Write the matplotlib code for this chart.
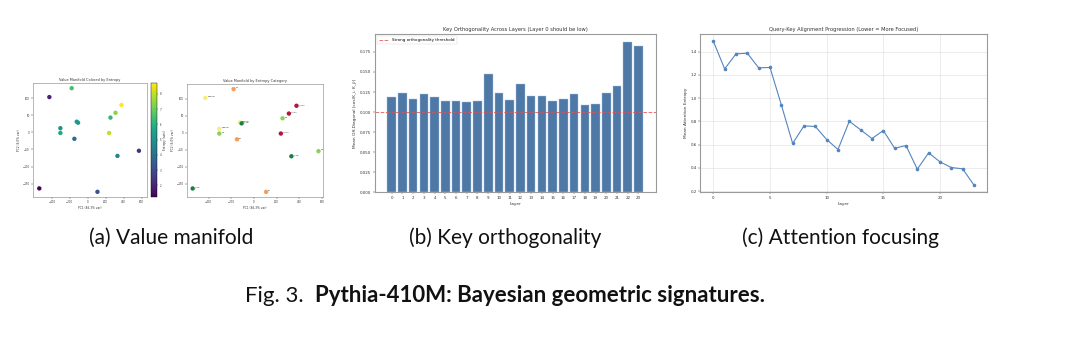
import matplotlib
matplotlib.use("Agg")
import matplotlib.pyplot as plt
import numpy as np

# ---------------- data ----------------
# (a) PCA projection of value vectors for 15 prompts
pc1 = [-428, -179, 376, 309, 253, -123, -108, -305, -305, 238, -149, 570, 331, -540, 108]
pc2 = [103, 129, 80, 57, 43, 31, 28, 12, -2, -2, -19, -54, -69, -164, -174]
prompt_entropy = [2.0, 6.5, 8.72, 7.4, 6.2, 5.35, 5.2, 5.0, 5.7, 8.0, 3.85, 2.35, 4.6, 1.23, 3.1]
prompt_category = ["medium", "MH", "H_high", "H_high", "ML", "medium", "L_low", "medium",
                   "ML", "H_high", "MH", "ML", "L_low", "L_low", "MH"]
category_colors = {"H_high": "#b2163b", "MH": "#f59d5b", "medium": "#f7ee7c",
                   "ML": "#8ccf5e", "L_low": "#1b7f3e"}

# (b) key orthogonality per layer
layers = list(range(24))
key_offdiag_cos = [0.1182, 0.1232, 0.1165, 0.1227, 0.1186, 0.1136, 0.1132, 0.1120,
                   0.1136, 0.1476, 0.1236, 0.1145, 0.1356, 0.1194, 0.1194, 0.1136,
                   0.1157, 0.1227, 0.1082, 0.1103, 0.1240, 0.1331, 0.1879, 0.1829]
ortho_threshold = 0.1

# (c) mean attention entropy per layer
attn_entropy = [1.489, 1.251, 1.380, 1.386, 1.260, 1.263, 0.942, 0.610, 0.761, 0.756,
                0.644, 0.558, 0.801, 0.727, 0.652, 0.721, 0.569, 0.592, 0.389, 0.529,
                0.452, 0.403, 0.392, 0.252]

subcaptions = ["(a) Value manifold", "(b) Key orthogonality", "(c) Attention focusing"]

# ---------------- styling helpers ----------------
SPINE = "#9a9a9a"
TEXT = "#333333"


def style_axes(ax, tick_fs, lw=0.8):
    for s in ax.spines.values():
        s.set_color(SPINE)
        s.set_linewidth(lw)
    ax.tick_params(labelsize=tick_fs, length=1.2, width=0.3, pad=1.2,
                   colors=TEXT, labelcolor=TEXT)


fig = plt.figure(figsize=(10.8, 3.41), dpi=100)
W, H = 1080.0, 341.0


def px_axes(x0, y0, x1, y1):
    return fig.add_axes([x0 / W, 1 - y1 / H, (x1 - x0) / W, (y1 - y0) / H])


# ---------------- (a) left: colored by entropy ----------------
ax1 = px_axes(33, 83, 147, 197)
sc = ax1.scatter(pc1, pc2, c=prompt_entropy, cmap="viridis", s=10,
                 edgecolors="none", vmin=min(prompt_entropy), vmax=max(prompt_entropy))
ax1.set_xlim(-610, 660)
ax1.set_xticks([-400, -200, 0, 200, 400, 600])
ax1.set_yticks([-150, -100, -50, 0, 50, 100])
ax1.set_title("Value Manifold Colored by Entropy", fontsize=2.5, pad=1.5, color=TEXT)
ax1.set_xlabel("PC1 (86.3% var)", fontsize=2.1, labelpad=1, color=TEXT)
ax1.set_ylabel("PC2 (6.0% var)", fontsize=2.1, labelpad=1, color=TEXT)
style_axes(ax1, 1.9, lw=0.5)

cax = px_axes(151, 83, 157, 197)
cb = fig.colorbar(sc, cax=cax)
cb.set_ticks([2, 3, 4, 5, 6, 7, 8])
cb.set_label("Entropy (nats)", fontsize=2.0, labelpad=1.5, color=TEXT)
cb.outline.set_linewidth(0.3)
cb.ax.tick_params(labelsize=1.9, length=1, width=0.3, pad=1, colors=TEXT)

# ---------------- (a) right: by entropy category ----------------
ax2 = px_axes(187, 84, 323, 197)
for x, y, cat in zip(pc1, pc2, prompt_category):
    ax2.scatter(x, y, s=10, color=category_colors[cat], edgecolors="none")
    ax2.annotate(cat, (x, y), xytext=(1.5, 0.5), textcoords="offset points",
                 fontsize=1.4, color=TEXT)
ax2.set_xlim(-590, 610)
ax2.set_xticks([-400, -200, 0, 200, 400, 600])
ax2.set_yticks([-150, -100, -50, 0, 50, 100])
ax2.set_title("Value Manifold by Entropy Category", fontsize=2.5, pad=1.5, color=TEXT)
ax2.set_xlabel("PC1 (86.3% var)", fontsize=2.1, labelpad=1, color=TEXT)
ax2.set_ylabel("PC2 (6.0% var)", fontsize=2.1, labelpad=1, color=TEXT)
style_axes(ax2, 1.9, lw=0.5)

# ---------------- (b) key orthogonality ----------------
ax3 = px_axes(374.6, 34, 655.5, 192.3)
ax3.bar(layers, key_offdiag_cos, width=0.8, color="#4e79a7", edgecolor="#a9c2df",
        linewidth=0.3)
ax3.axhline(ortho_threshold, color="#e05050", linestyle="--", linewidth=0.7,
            alpha=0.8, label="Strong orthogonality threshold")
ax3.set_xticks(layers)
ax3.set_yticks(np.arange(0, 0.176, 0.025))
ax3.set_title("Key Orthogonality Across Layers (Layer 0 should be low)",
              fontsize=3.7, pad=2, color=TEXT)
ax3.set_xlabel("Layer", fontsize=3.1, labelpad=1.5, color=TEXT)
ax3.set_ylabel("Mean Off-Diagonal |cos(K_i, K_j)|", fontsize=3.1, labelpad=2, color=TEXT)
style_axes(ax3, 2.9)
leg = ax3.legend(loc="upper left", fontsize=2.9, frameon=True, handlelength=2.5,
                 borderpad=0.5, borderaxespad=0.6)
leg.get_frame().set_linewidth(0.3)

# ---------------- (c) attention focusing ----------------
ax4 = px_axes(700.3, 34, 987, 192.3)
ax4.plot(layers, attn_entropy, "-o", color="#5585bf", linewidth=0.8, markersize=1.6)
ax4.set_xticks([0, 5, 10, 15, 20])
ax4.set_yticks([0.2, 0.4, 0.6, 0.8, 1.0, 1.2, 1.4])
ax4.grid(True, color="#dddddd", linewidth=0.4)
ax4.set_axisbelow(True)
ax4.set_title("Query-Key Alignment Progression (Lower = More Focused)",
              fontsize=3.7, pad=2, color=TEXT)
ax4.set_xlabel("Layer", fontsize=3.1, labelpad=1.5, color=TEXT)
ax4.set_ylabel("Mean Attention Entropy", fontsize=3.1, labelpad=2, color=TEXT)
style_axes(ax4, 2.9)

# ---------------- captions ----------------
cap_font = "Lato"
for label, cx in zip(subcaptions, [171.5, 505, 840]):
    fig.text(cx / W, 1 - 238 / H, label, ha="center", va="center",
             fontsize=15, family=cap_font, color="#111111")

t1 = fig.text(245 / W, 1 - 296 / H, "Fig. 3.", ha="left", va="center",
              fontsize=16, family=cap_font, color="#111111")
fig.canvas.draw()
bb = t1.get_window_extent()
fig.text((bb.x1 + 11) / W, 1 - 296 / H, "Pythia-410M: Bayesian geometric signatures.",
         ha="left", va="center", fontsize=16, family=cap_font, weight="bold",
         color="#111111")

fig.savefig("out.png", dpi=100)
